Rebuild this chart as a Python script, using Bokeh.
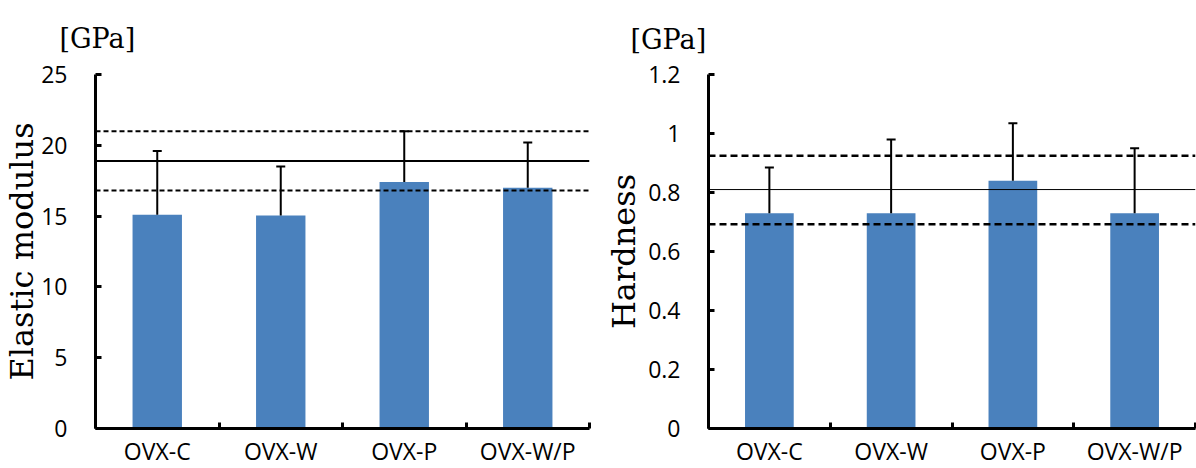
from bokeh.plotting import figure
from bokeh.layouts import row
from bokeh.models import (ColumnDataSource, Whisker, TeeHead, Span, LinearAxis,
                          Range1d, FixedTicker, NumeralTickFormatter, Title)
from bokeh.embed import file_html
from bokeh.resources import INLINE

# ---- data ----
categories = ["OVX-C", "OVX-W", "OVX-P", "OVX-W/P"]

elastic_mean = [15.1, 15.05, 17.4, 17.0]
elastic_sd = [4.5, 3.45, 3.6, 3.2]
elastic_ref = 18.9
elastic_ref_upper = 21.0
elastic_ref_lower = 16.8
elastic_ticks = [0, 5, 10, 15, 20, 25]

hardness_mean = [0.73, 0.73, 0.84, 0.73]
hardness_sd = [0.155, 0.25, 0.195, 0.22]
hardness_ref = 0.81
hardness_ref_upper = 0.925
hardness_ref_lower = 0.692
hardness_ticks = [0, 0.2, 0.4, 0.6, 0.8, 1.0, 1.2]

unit_text = "[GPa]"

BAR = "#4A81BD"
TICK_FONT = "Open Sans"
SERIF = "DejaVu Serif"


def make_chart(mean, sd, ref, ref_up, ref_lo, ticks, ylabel,
               fw, left, right, top, bottom, label_standoff, title_offset, title_standoff,
               solid_w, dash, dash_w, formatter=None):
    p = figure(x_range=categories, y_range=Range1d(ticks[0], ticks[-1]),
               frame_width=fw, frame_height=354,
               x_axis_location=None, y_axis_location="left",
               output_backend="svg", toolbar_location=None,
               min_border_left=left, min_border_right=right,
               min_border_top=top, min_border_bottom=bottom)
    p.outline_line_color = None
    p.xgrid.visible = False
    p.ygrid.visible = False
    p.background_fill_color = "white"
    p.border_fill_color = "white"

    p.title = Title(text=unit_text, align="left", vertical_align="top",
                    offset=title_offset, standoff=title_standoff,
                    text_font=SERIF, text_font_size="27px", text_font_style="normal",
                    text_color="black")

    src = ColumnDataSource(dict(cat=categories, val=mean,
                                upper=[m + s for m, s in zip(mean, sd)]))
    p.vbar(x="cat", top="val", bottom=0, width=0.4, source=src,
           fill_color=BAR, line_color=None)

    w = Whisker(base="cat", upper="upper", lower="val", source=src,
                line_color="black", line_width=2,
                upper_head=TeeHead(size=9, line_width=2, line_color="black"),
                lower_head=None, level="overlay")
    p.add_layout(w)

    p.add_layout(Span(location=ref, dimension="width", line_color="black",
                      line_width=solid_w, level="overlay"))
    for loc in (ref_up, ref_lo):
        p.add_layout(Span(location=loc, dimension="width", line_color="black",
                          line_width=dash_w, line_dash=dash, level="overlay"))

    ya = p.yaxis[0]
    ya.ticker = FixedTicker(ticks=ticks)
    if formatter is not None:
        ya.formatter = formatter
    ya.axis_line_width = 3
    ya.axis_line_color = "black"
    ya.major_tick_line_width = 3
    ya.major_tick_line_color = "black"
    ya.major_tick_in = 6
    ya.major_tick_out = 0
    ya.minor_tick_line_color = None
    ya.major_label_text_font = TICK_FONT
    ya.major_label_text_font_size = "23px"
    ya.major_label_text_color = "black"
    ya.major_label_standoff = 28
    ya.axis_label = ylabel
    ya.axis_label_text_font = SERIF
    ya.axis_label_text_font_size = "32px"
    ya.axis_label_text_font_style = "normal"
    ya.axis_label_text_color = "black"
    ya.axis_label_standoff = label_standoff

    # category axis on the factor range's synthetic coordinates:
    # labels at category centres, small ticks at the boundaries between categories
    n = len(categories)
    centers = [i + 0.5 for i in range(n)]
    bounds = list(range(n + 1))
    xa = LinearAxis(ticker=FixedTicker(ticks=centers, minor_ticks=bounds),
                    major_label_overrides={c: lab for c, lab in zip(centers, categories)},
                    major_tick_line_color=None, major_tick_in=0, major_tick_out=0,
                    minor_tick_in=6, minor_tick_out=0,
                    minor_tick_line_width=3, minor_tick_line_color="black",
                    axis_line_width=3, axis_line_color="black",
                    major_label_text_font=TICK_FONT,
                    major_label_text_font_size="23px",
                    major_label_text_color="black",
                    major_label_standoff=6)
    p.add_layout(xa, "below")
    return p


p1 = make_chart(elastic_mean, elastic_sd, elastic_ref, elastic_ref_upper, elastic_ref_lower,
                elastic_ticks, "Elastic modulus",
                fw=494, left=93, right=9, top=74, bottom=40, label_standoff=-3,
                title_offset=-36, title_standoff=38,
                solid_w=2, dash="5 3", dash_w=2)

p2 = make_chart(hardness_mean, hardness_sd, hardness_ref, hardness_ref_upper, hardness_ref_lower,
                hardness_ticks, "Hardness",
                fw=487, left=110, right=3, top=71, bottom=43, label_standoff=2,
                title_offset=-78, title_standoff=35,
                solid_w=1, dash="7 4", dash_w=2.5,
                formatter=NumeralTickFormatter(format="0.[0]"))

layout = row(p1, p2, spacing=0)
with open("out.html", "w") as f:
    f.write(file_html(layout, INLINE))
